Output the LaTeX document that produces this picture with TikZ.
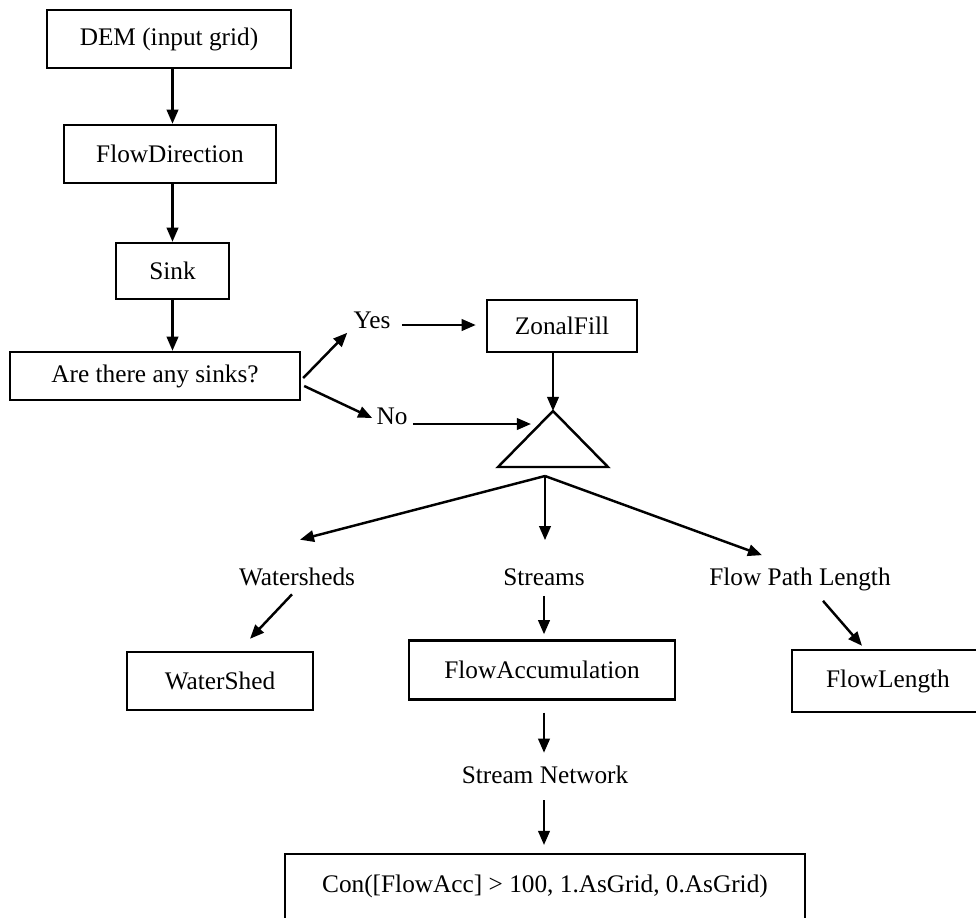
\documentclass[tikz,border=0pt]{standalone}
\usepackage{fontspec}
\setmainfont{Liberation Serif}
\usetikzlibrary{arrows.meta,calc}
\begin{document}
\begin{tikzpicture}[x=0.02cm,y=-0.02cm,
  txt/.style={font=\fontsize{14.4}{17}\selectfont},
  box/.style={txt,draw,line width=1.4pt,inner sep=0pt},
  lbl/.style={txt,inner sep=0pt},
  arr/.style={line width=1.4pt,-{Triangle[length=8pt,width=6.5pt]}},
  edge/.style={line width=1.4pt,line join=miter}]
\useasboundingbox (0,0) rectangle (976,917);
\clip (0,0) rectangle (976,917);
% boxes
\node[box,minimum width=4.88cm,minimum height=1.16cm] (dem) at (169,39) {DEM (input grid)};
\node[box,minimum width=4.24cm,minimum height=1.16cm] (fd) at (170,154) {FlowDirection};
\node[box,minimum width=2.26cm,minimum height=1.12cm] (sink) at (172.5,271) {Sink};
\node[box,minimum width=5.8cm,minimum height=0.96cm] (q) at (155,376) {Are there any sinks?};
\node[box,minimum width=3.0cm,minimum height=1.04cm] (zf) at (562,326) {ZonalFill};
\node[box,minimum width=3.72cm,minimum height=1.16cm] (ws) at (220,681) {WaterShed};
\node[box,minimum width=5.32cm,minimum height=1.18cm] (fa) at (542,670) {FlowAccumulation};
\node[box,minimum width=3.84cm,minimum height=1.24cm] (fl) at (888,681) {FlowLength};
\node[box,anchor=north,minimum width=10.4cm,text height=22pt,text depth=34pt] (con) at (545,853) {Con([FlowAcc] > 100, 1.AsGrid, 0.AsGrid)};
% labels
\node[lbl] (yes) at (372,320) {Yes};
\node[lbl] (no) at (392,416) {No};
\node[lbl] (wsl) at (297,577) {Watersheds};
\node[lbl] (stl) at (544,577) {Streams};
\node[lbl] (fpl) at (800,579) {Flow Path Length};
\node[lbl] (sn) at (545,775) {Stream Network};
% triangle
\coordinate (apex) at (553,411);
\coordinate (tl) at (498,467);
\coordinate (tr) at (608,467);
\draw[edge] (apex) -- (tl) -- (tr) -- cycle;
\coordinate (fan) at (545,476);
\coordinate (noend) at (531,424);
% arrows
\draw[arr] (dem.south -| sink) -- (fd.north -| sink);
\draw[arr] (fd.south -| sink) -- (sink.north);
\draw[arr] (sink.south) -- (q.north -| sink);
\draw[arr] ($(q.east)+(2,2)$) -- ($(yes.south west)+(-6,4)$);
\draw[arr] ($(yes.east)+(11,5)$) -- ($(zf.west)+(-10,-1)$);
\draw[arr] ($(q.east)+(3,10)$) -- ($(no.west)+(-4,2)$);
\draw[arr] ($(no.east)+(5,8)$) -- (noend);
\draw[arr] (zf.south -| apex) -- (apex);
\draw[arr] (fan) -- ($(wsl.north)+(3,-28)$);
\draw[arr] (fan) -- ($(stl.north)+(1,-28)$);
\draw[arr] (fan) -- ($(fpl.north)+(-38,-12)$);
\draw[arr] ($(wsl.south)+(-5,8)$) -- ($(ws.north)+(30,-12)$);
\draw[arr] ($(stl.south)+(0,10)$) -- ($(fa.north)+(2,-5)$);
\draw[arr] ($(fpl.south)+(23,10)$) -- ($(fl.north)+(-26,-3)$);
\draw[arr] ($(fa.south)+(2,12)$) -- ($(sn.north)+(-1,-13)$);
\draw[arr] ($(sn.south)+(-1,16)$) -- ($(con.north)+(-1,-8)$);
\end{tikzpicture}
\end{document}
